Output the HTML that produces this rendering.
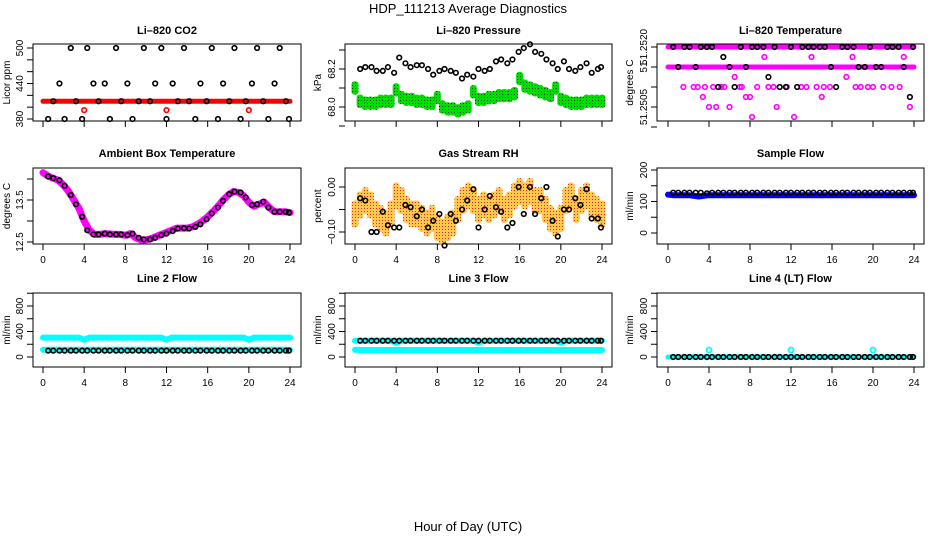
<!DOCTYPE html>
<html><head><meta charset="utf-8">
<style>
html,body{margin:0;padding:0;background:#fff;}
svg{display:block;font-family:"Liberation Sans",Arial,sans-serif;}
</style></head>
<body>
<svg id="fig" width="936" height="540" viewBox="0 0 936 540" xmlns="http://www.w3.org/2000/svg">
<defs>
<pattern id="rhpat" width="3" height="3" patternUnits="userSpaceOnUse">
<rect width="3" height="3" fill="#ffc030"/><rect x="1" y="1" width="1" height="1" fill="#e00000"/>
</pattern>
<pattern id="grpat" width="3" height="3" patternUnits="userSpaceOnUse">
<rect width="3" height="3" fill="#00dd00"/><rect x="1" y="1" width="1" height="1" fill="#004400"/>
</pattern>
</defs>
<text x="468" y="13" text-anchor="middle" font-size="13">HDP_111213  Average Diagnostics</text>
<text x="468" y="531" text-anchor="middle" font-size="13">Hour of Day (UTC)</text>
</svg>
<script>
// shared time categories
const hourTimes=[0.5,1.0,1.6,2.1,2.7,3.2,3.8,4.3,4.9,5.4,6.0,6.5,7.1,7.6,8.2,8.7,9.3,9.8,10.4,10.9,11.5,12.0,12.6,13.1,13.7,14.2,14.8,15.3,15.9,16.4,17.0,17.5,18.1,18.6,19.2,19.7,20.3,20.8,21.4,21.9,22.5,23.0,23.6,23.9];
const denseTimes=[0,0.5,1,1.5,2,2.5,3,3.5,4,4.5,5,5.5,6,6.5,7,7.5,8,8.5,9,9.5,10,10.5,11,11.5,12,12.5,13,13.5,14,14.5,15,15.5,16,16.5,17,17.5,18,18.5,19,19.5,20,20.5,21,21.5,22,22.5,23,23.5,24];
const xTickLabels=["0","4","8","12","16","20","24"];
const xTickValues=[0,4,8,12,16,20,24];
const outlierTimes=[4,12,20];

// Li-820 CO2
const co2Black=[380,410,440,380,500,410,380,500,440,410,440,380,500,410,440,380,410,500,410,440,500,380,440,410,500,410,380,440,410,500,380,440,410,500,380,410,440,500,410,380,440,500,410,380];
const co2Red=[410,410,410,410,410,410,410,410,410,410,410,410,410,410,410,410,410,410,410,410,410,410,410,410,410,410,410,410,410,410,410,410,410,410,410,410,410,410,410,410,410,410,410,410,410,410,410,410,410];
const co2RedOut=[395,395,395];
// Li-820 Pressure
const presBlack=[68.2,68.21,68.21,68.19,68.19,68.21,68.18,68.26,68.23,68.21,68.22,68.22,68.2,68.17,68.19,68.2,68.19,68.18,68.15,68.17,68.16,68.2,68.19,68.2,68.24,68.25,68.23,68.25,68.29,68.31,68.33,68.29,68.28,68.25,68.23,68.2,68.24,68.2,68.19,68.21,68.23,68.18,68.2,68.21];
const presGreen=[68.1,68.03,68.02,68.02,68.02,68.03,68.03,68.03,68.09,68.05,68.04,68.04,68.03,68.03,68.02,68.02,68.05,68.0,67.99,67.99,67.98,67.99,68.0,68.08,68.04,68.04,68.05,68.05,68.06,68.06,68.06,68.07,68.15,68.11,68.1,68.09,68.08,68.07,68.06,68.1,68.04,68.03,68.02,68.02,68.02,68.03,68.03,68.03,68.03];
// Li-820 Temperature
const tempMagTop=[51.2520,51.2520,51.2520,51.2520,51.2520,51.2520,51.2520,51.2520,51.2520,51.2520,51.2520,51.2520,51.2520,51.2520,51.2520,51.2520,51.2520,51.2520,51.2520,51.2520,51.2520,51.2520,51.2520,51.2520,51.2520,51.2520,51.2520,51.2520,51.2520,51.2520,51.2520,51.2520,51.2520,51.2520,51.2520,51.2520,51.2520,51.2520,51.2520,51.2520,51.2520,51.2520,51.2520,51.2520,51.2520,51.2520,51.2520,51.2520,51.2520];
const tempMagMid=[51.2515,51.2515,51.2515,51.2515,51.2515,51.2515,51.2515,51.2515,51.2515,51.2515,51.2515,51.2515,51.2515,51.2515,51.2515,51.2515,51.2515,51.2515,51.2515,51.2515,51.2515,51.2515,51.2515,51.2515,51.2515,51.2515,51.2515,51.2515,51.2515,51.2515,51.2515,51.2515,51.2515,51.2515,51.2515,51.2515,51.2515,51.2515,51.2515,51.2515,51.2515,51.2515,51.2515,51.2515,51.2515,51.2515,51.2515,51.2515,51.2515];
const tempScatT=[1.5,2.5,2.9,3.4,3.6,4.0,4.4,4.7,5.2,5.5,6.0,6.5,7.0,7.2,7.6,8.0,8.2,8.7,9.4,9.8,10.3,10.6,11.6,12.3,13.0,13.5,14.0,14.5,15.0,15.2,15.8,17.4,18.0,18.3,18.8,19.5,20.0,21.0,21.8,22.6,23.0,23.6];
const tempScatV=[51.2510,51.2510,51.2510,51.25075,51.2510,51.2505,51.2510,51.2505,51.2510,51.2510,51.2505,51.25125,51.2510,51.2510,51.25075,51.25075,51.25025,51.2510,51.25175,51.2510,51.2510,51.2505,51.2510,51.25025,51.2510,51.2510,51.25175,51.2510,51.25075,51.2510,51.2510,51.25125,51.25175,51.2510,51.2510,51.2510,51.2510,51.2510,51.2510,51.2510,51.25175,51.2505];
const tempBlack=[51.2520,51.2515,51.2520,51.2520,51.2515,51.2520,51.2520,51.2520,51.2510,51.25175,51.2515,51.2510,51.2520,51.2515,51.2520,51.2520,51.2520,51.25125,51.2520,51.2510,51.2510,51.2520,51.2510,51.2520,51.2520,51.2520,51.2520,51.2520,51.2515,51.2510,51.2520,51.2520,51.2520,51.2515,51.2515,51.2520,51.2515,51.2515,51.2520,51.2520,51.2520,51.2515,51.25075,51.2520];
// Ambient box temperature
const ambMag=[14.15,14.07,14.02,13.97,13.85,13.7,13.5,13.3,13.0,12.78,12.68,12.68,12.7,12.69,12.68,12.68,12.66,12.7,12.6,12.55,12.55,12.58,12.63,12.68,12.73,12.78,12.83,12.83,12.83,12.86,12.92,13.0,13.1,13.22,13.35,13.5,13.62,13.7,13.68,13.6,13.45,13.35,13.4,13.45,13.32,13.22,13.22,13.22,13.2];
const ambBlack=[14.06,14.02,13.97,13.84,13.62,13.4,13.1,12.78,12.68,12.68,12.7,12.68,12.68,12.68,12.66,12.7,12.6,12.56,12.56,12.6,12.66,12.7,12.76,12.82,12.83,12.82,12.86,12.92,13.04,13.18,13.32,13.48,13.64,13.7,13.68,13.56,13.38,13.4,13.46,13.32,13.22,13.22,13.22,13.2];
// Gas stream RH
const rhOrange=[-0.06,-0.04,-0.03,-0.04,-0.06,-0.07,-0.08,-0.06,-0.02,-0.03,-0.05,-0.06,-0.06,-0.07,-0.08,-0.07,-0.09,-0.1,-0.09,-0.08,-0.05,-0.03,-0.02,-0.03,-0.05,-0.04,-0.05,-0.04,-0.03,-0.05,-0.04,-0.02,-0.01,-0.02,-0.01,-0.03,-0.03,-0.05,-0.07,-0.08,-0.07,-0.03,-0.02,-0.05,-0.03,-0.02,-0.04,-0.05,-0.06];
const rhBlack=[-0.025,-0.03,-0.1,-0.1,-0.055,-0.085,-0.09,-0.09,-0.04,-0.045,-0.065,-0.05,-0.09,-0.075,-0.06,-0.13,-0.06,-0.075,-0.05,-0.03,-0.005,-0.09,-0.05,-0.02,-0.045,-0.055,-0.09,-0.08,0.0,-0.06,0.0,-0.06,-0.025,0.0,-0.075,-0.11,-0.05,-0.05,-0.025,-0.04,-0.005,-0.07,-0.07,-0.09];
// Sample flow
const sampleBlue=[122,120,120,120,120,118,116,118,120,120,120,120,120,120,120,120,120,120,120,120,120,120,120,120,120,120,120,120,120,120,120,120,120,120,120,120,120,120,120,120,120,120,120,120,120,120,120,120,120];
const sampleBlack=[128,128,128,128,128,128,126,128,128,128,128,128,128,128,128,128,128,128,128,128,128,128,128,128,128,128,128,128,128,128,128,128,128,128,128,128,128,128,128,128,128,128,128,128];
// Line 2 flow
const l2CyanHi=[305,305,305,305,305,305,305,305,270,305,305,305,305,305,305,305,305,305,305,305,305,305,305,305,270,305,305,305,305,305,305,305,305,305,305,305,305,305,305,305,270,305,305,305,305,305,305,305,305];
const l2CyanLo=[115,115,115,115,115,115,115,115,115,115,115,115,115,115,115,115,115,115,115,115,115,115,115,115,115,115,115,115,115,115,115,115,115,115,115,115,115,115,115,115,115,115,115,115,115,115,115,115,115];
const l2Black=[100,100,100,100,100,100,100,100,100,100,100,100,100,100,100,100,100,100,100,100,100,100,100,100,100,100,100,100,100,100,100,100,100,100,100,100,100,100,100,100,100,100,100,100];
// Line 3 flow
const l3CyanHi=[255,255,255,255,255,255,255,255,225,255,255,255,255,255,255,255,255,255,255,255,255,255,255,255,225,255,255,255,255,255,255,255,255,255,255,255,255,255,255,255,225,255,255,255,255,255,255,255,255];
const l3CyanLo=[115,110,110,110,110,110,110,110,110,110,110,110,110,110,110,110,110,110,110,110,110,110,110,110,110,110,110,110,110,110,110,110,110,110,110,110,110,110,110,110,110,110,110,110,110,110,110,110,110];
const l3Black=[255,255,255,255,255,255,255,255,255,255,255,255,255,255,255,255,255,255,255,255,255,255,255,255,255,255,255,255,255,255,255,255,255,255,255,255,255,255,255,255,255,255,255,255];
// Line 4 flow
const l4Cyan=[0,0,0,0,0,0,0,0,0,0,0,0,0,0,0,0,0,0,0,0,0,0,0,0,0,0,0,0,0,0,0,0,0,0,0,0,0,0,0,0,0,0,0,0,0,0,0,0,0];
const l4CyanOut=[110,110,110];
const l4Black=[0,0,0,0,0,0,0,0,0,0,0,0,0,0,0,0,0,0,0,0,0,0,0,0,0,0,0,0,0,0,0,0,0,0,0,0,0,0,0,0,0,0,0,0];

const NS="http://www.w3.org/2000/svg";
const fig=document.getElementById('fig');
function mk(tag,attrs,parent){const e=document.createElementNS(NS,tag);for(const k in attrs)e.setAttribute(k,attrs[k]);(parent||fig).appendChild(e);return e;}

const cols=[{l:33,r:301,x0:43,x24:290,lab:23,yt:10},{l:345,r:612,x0:355,x24:602,lab:335,yt:321},{l:657,r:924,x0:668,x24:914,lab:647,yt:633}];
const rows=[{t:44,b:121,title:34,xlab:false},{t:168,b:244,title:157,xlab:true},{t:293,b:367,title:282,xlab:true}];

function panel(name,ci,ri,title,ylab,a1,a2,yticks,ylabels){
  const c=cols[ci],r=rows[ri];
  const g=mk('g',{});
  
  
  const xs=t=>c.x0+(c.x24-c.x0)*t/24;
  const ys=v=>a1[1]+(v-a1[0])*(a2[1]-a1[1])/(a2[0]-a1[0]);
  const tt=mk('text',{x:(c.l+c.r)/2,y:r.title,'text-anchor':'middle','font-size':11,'font-weight':'bold'},g);
  tt.textContent=title;
  
  
  const box=mk('rect',{x:c.l,y:r.t,width:c.r-c.l,height:r.b-r.t,fill:'none',stroke:'#000','stroke-width':1},g);
  
  
  const xa=mk('g',{},g);
  
  
  xTickValues.forEach((v,i)=>{
    const x=xs(v);
    mk('line',{x1:x,x2:x,y1:r.b,y2:r.b+6,stroke:'#000'},xa);
    if(r.xlab){const t=mk('text',{x:x,y:r.b+19,'text-anchor':'middle','font-size':10},xa);t.textContent=xTickLabels[i];}
  });
  const ya=mk('g',{},g);
  
  
  yticks.forEach(v=>{const y=ys(v);mk('line',{x1:c.l-6,x2:c.l,y1:y,y2:y,stroke:'#000'},ya);});
  ylabels.forEach(p=>{const y=ys(p[0]);const t=mk('text',{x:c.lab,y:y,'text-anchor':'middle','font-size':10,transform:`rotate(-90 ${c.lab} ${y})`},ya);t.textContent=p[1];});
  const yt=mk('text',{x:c.yt,y:(r.t+r.b)/2,'text-anchor':'middle','font-size':10,transform:`rotate(-90 ${c.yt} ${(r.t+r.b)/2})`},g);
  yt.textContent=ylab;
  
  
  return {g,xs,ys};
}
function dense(p,name,times,vals,color,w){
  const s=mk('g',{},p.g);
  
  
  let d='';
  times.forEach((t,i)=>{d+=(i?'L':'M')+p.xs(t).toFixed(1)+','+p.ys(vals[i]).toFixed(1);});
  mk('path',{d:d,fill:'none',stroke:color,'stroke-width':w,'stroke-linejoin':'round','stroke-linecap':'round'},s);
  return s;
}
function pts(p,name,times,vals,color,r,sw,fill){
  const s=mk('g',{},p.g);
  
  
  times.forEach((t,i)=>{
    const c=mk('circle',{cx:p.xs(t),cy:p.ys(vals[i]),r:r,fill:fill||'none',stroke:color,'stroke-width':sw},s);
    
    
  });
}
function band(p,name,times,vals,half,fill,op){
  const s=mk('g',{opacity:op||1},p.g);
  
  
  times.forEach((t,i)=>{
    const y1=p.ys(vals[i]+half),y2=p.ys(vals[i]-half);
    const x=p.xs(t);
    const rc=mk('rect',{x:x-3.5,y:Math.min(y1,y2),width:7,height:Math.abs(y2-y1),rx:3,fill:fill},s);
    
    
  });
}

// Panel 1: CO2
let p=panel('co2',0,0,'Li–820 CO2','Licor ppm',[500,48],[380,119],[380,400,420,440,460,480,500],[[380,'380'],[440,'440'],[500,'500']]);
dense(p,'co2-red-series',denseTimes,co2Red,'#ff0000',5);
pts(p,'co2-red-outliers',outlierTimes,co2RedOut,'#ff0000',2.3,1.6);
pts(p,'co2-black-series',hourTimes,co2Black,'#000',2.3,1.6);

// Panel 2: Pressure
p=panel('pressure',1,0,'Li–820 Pressure','kPa',[68.2,69],[68.0,107],[67.9,68.0,68.1,68.2,68.3],[[68.0,'68.0'],[68.2,'68.2']]);
band(p,'pressure-green-series',denseTimes,presGreen,0.035,'url(#grpat)');
pts(p,'pressure-black-series',hourTimes,presBlack,'#000',2.3,1.6);

// Panel 3: Temperature
p=panel('li820-temp',2,0,'Li–820 Temperature','degrees C',[51.2520,47],[51.2505,107],[51.2520,51.2515,51.2510,51.2505,51.2500],[[51.2520,'51.2520'],[51.2515,'51'],[51.2505,'51.2505']]);
dense(p,'temp-magenta-top',denseTimes,tempMagTop,'#ff00ff',5);
dense(p,'temp-magenta-mid',denseTimes,tempMagMid,'#ff00ff',5);
pts(p,'temp-magenta-scatter',tempScatT,tempScatV,'#ff00ff',2.3,1.6);
pts(p,'temp-black-series',hourTimes,tempBlack,'#000',2.3,1.6);

// Panel 4: Ambient
p=panel('ambient-temp',0,1,'Ambient Box Temperature','degrees C',[13.5,200],[12.5,242],[12.5,13.0,13.5,14.0],[[12.5,'12.5'],[13.5,'13.5']]);
dense(p,'ambient-magenta-series',denseTimes,ambMag,'#ff00ff',7);
pts(p,'ambient-black-series',hourTimes,ambBlack,'#000',2.3,1.6);

// Panel 5: RH
p=panel('gas-rh',1,1,'Gas Stream RH','percent',[0,187],[-0.1,232],[-0.1,-0.05,0],[[-0.1,'−0.10'],[0,'0.00']]);
band(p,'rh-orange-series',denseTimes,rhOrange,0.03,'url(#rhpat)',0.85);
pts(p,'rh-black-series',hourTimes,rhBlack,'#000',2.3,1.6);

// Panel 6: Sample flow
p=panel('sample-flow',2,1,'Sample Flow','ml/min',[200,170],[0,233],[0,50,100,150,200],[[0,'0'],[100,'100'],[200,'200']]);
dense(p,'sample-blue-series',denseTimes,sampleBlue,'#0000ff',6);
pts(p,'sample-black-series',hourTimes,sampleBlack,'#000',2.3,1.6);

// Panel 7: Line 2
const flowTicks=[0,200,400,600,800,1000];
const flowLabels=[[0,'0'],[400,'400'],[800,'800']];
p=panel('line2-flow',0,2,'Line 2 Flow','ml/min',[0,357],[800,306],flowTicks,flowLabels);
dense(p,'line2-cyan-high',denseTimes,l2CyanHi,'#00ffff',6);
dense(p,'line2-cyan-low',denseTimes,l2CyanLo,'#00ffff',6);
pts(p,'line2-black-series',hourTimes,l2Black,'#000',2.3,1.6);

// Panel 8: Line 3
p=panel('line3-flow',1,2,'Line 3 Flow','ml/min',[0,357],[800,306],flowTicks,flowLabels);
dense(p,'line3-cyan-high',denseTimes,l3CyanHi,'#00ffff',6);
dense(p,'line3-cyan-low',denseTimes,l3CyanLo,'#00ffff',6);
pts(p,'line3-black-series',hourTimes,l3Black,'#000',2.3,1.6);

// Panel 9: Line 4
p=panel('line4-flow',2,2,'Line 4 (LT) Flow','ml/min',[0,357],[800,306],flowTicks,flowLabels);
dense(p,'line4-cyan-series',denseTimes,l4Cyan,'#00ffff',5);
pts(p,'line4-cyan-outliers',outlierTimes,l4CyanOut,'#00ffff',2.5,1.8);
pts(p,'line4-black-series',hourTimes,l4Black,'#000',2.3,1.6);
</script>
</body></html>
